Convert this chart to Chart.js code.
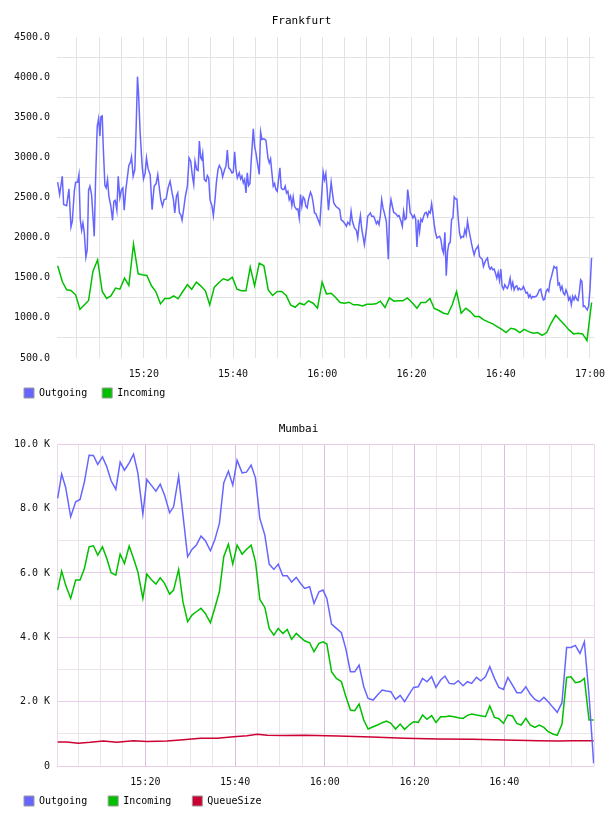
<!DOCTYPE html>
<html>
<head>
<meta charset="utf-8">
<script src="https://cdn.jsdelivr.net/npm/chart.js@4.4.0/dist/chart.umd.min.js"></script>
<style>
  html, body { margin: 0; background: #fff; overflow: hidden; }
  #wrap { position: relative; width: 608px; height: 816px; overflow: hidden; }
  canvas { display: block; position: absolute; left: 0; }
  #fraChart { top: 0; }
  #mumChart { top: 408px; }
</style>
</head>
<body>
<div id="wrap">
<canvas id="fraChart" width="608" height="415"></canvas>
<canvas id="mumChart" width="608" height="421"></canvas>
</div>
<script>
// x values are minutes after 15:00
const tickMinutes = [20, 40, 60, 80, 100, 120];
const tickLabels = ['15:20', '15:40', '16:00', '16:20', '16:40', '17:00'];

// Frankfurt - Outgoing
const fraOutTime = [
  0.68,1.12,1.72,2.02,2.69,3.21,3.66,3.96,4.41,4.70,
  5.15,5.45,5.75,6.05,6.34,6.64,7.01,7.31,7.61,7.91,
  8.28,8.88,9.18,9.55,9.85,10.15,10.37,10.67,10.89,11.27,
  11.56,11.86,12.16,12.61,12.98,13.28,13.58,13.95,14.25,14.62,
  15.00,15.29,15.59,15.96,16.34,16.63,17.01,17.23,17.60,17.98,
  18.28,18.57,18.80,19.17,19.62,19.92,20.29,20.59,20.96,21.41,
  21.85,22.30,22.75,23.12,23.42,23.79,24.17,24.54,24.99,25.43,
  25.88,26.33,26.63,26.93,27.30,27.60,27.97,28.27,28.57,29.01,
  29.31,29.76,30.13,30.50,30.88,31.18,31.47,31.85,32.15,32.44,
  32.74,32.97,33.19,33.56,33.94,34.23,34.53,34.83,35.28,35.58,
  35.95,36.25,36.62,36.92,37.37,37.66,38.11,38.41,38.71,39.01,
  39.38,39.75,40.05,40.35,40.65,40.95,41.39,41.69,41.99,42.29,
  42.59,42.89,43.18,43.48,43.78,44.08,44.53,44.82,45.12,45.57,
  45.87,46.17,46.46,46.91,47.36,47.81,48.11,48.40,48.70,49.00,
  49.30,49.60,49.90,50.19,50.49,50.79,51.09,51.39,51.68,51.98,
  52.28,52.58,52.88,53.18,53.47,53.77,54.22,54.52,54.82,55.11,
  55.41,55.71,56.01,56.31,56.61,56.90,57.35,57.65,57.95,58.25,
  58.55,58.99,59.44,59.89,60.19,60.48,60.78,61.08,61.38,61.68,
  61.98,62.27,62.57,63.02,63.47,63.91,64.21,64.66,64.96,65.41,
  65.70,66.15,66.45,66.75,67.20,67.64,67.94,68.24,68.54,68.84,
  69.13,69.43,69.88,70.18,70.48,70.77,71.07,71.52,71.82,72.12,
  72.42,72.71,73.01,73.31,73.61,73.91,74.35,74.80,75.10,75.40,
  75.70,75.99,76.44,76.89,77.19,77.64,77.93,78.23,78.53,78.83,
  79.13,79.42,79.72,80.02,80.32,80.62,80.92,81.22,81.51,81.81,
  82.11,82.41,82.71,83.01,83.30,83.60,83.90,84.20,84.50,84.80,
  85.09,85.39,85.69,85.99,86.29,86.59,86.88,87.18,87.48,87.78,
  88.08,88.38,88.67,88.97,89.27,89.57,89.87,90.17,90.46,90.76,
  91.06,91.36,91.66,91.96,92.25,92.55,92.85,93.15,93.45,93.75,
  94.04,94.34,94.64,94.94,95.24,95.53,95.83,96.13,96.43,96.73,
  97.03,97.32,97.62,97.92,98.22,98.52,98.82,99.11,99.41,99.71,
  100.01,100.31,100.61,100.90,101.20,101.50,101.80,102.10,102.39,102.69,
  102.99,103.29,103.59,103.89,104.18,104.48,104.78,105.08,105.38,105.68,
  105.97,106.27,106.57,106.87,107.17,107.47,107.76,108.06,108.36,108.66,
  108.96,109.26,109.55,109.85,110.15,110.45,110.75,111.05,111.34,111.64,
  111.94,112.24,112.54,112.84,113.13,113.43,113.73,114.03,114.33,114.62,
  114.92,115.22,115.52,115.82,116.12,116.41,116.71,117.01,117.31,117.61,
  117.91,118.20,118.50,118.80,119.10,119.40,119.70,119.99,120.35
];
const fraOut = [
  2692,2538,2767,2413,2400,2608,2133,2204,2579,2692,
  2692,2787,2225,2092,2183,2067,1758,1850,2592,2642,
  2538,2017,2725,3392,3483,3267,3508,3517,3142,2650,
  2621,2725,2517,2392,2217,2454,2467,2342,2767,2496,
  2600,2621,2342,2600,2767,2900,2942,3008,2767,2850,
  3392,4008,3808,3308,2892,2733,2808,2996,2858,2787,
  2350,2642,2675,2787,2642,2475,2392,2475,2483,2621,
  2704,2558,2475,2308,2517,2558,2308,2288,2217,2392,
  2517,2642,2996,2954,2767,2663,2954,2850,2838,3204,
  2996,2975,3050,2725,2704,2775,2746,2475,2392,2275,
  2475,2683,2850,2900,2850,2758,2850,2892,3092,2871,
  2850,2808,2817,3070,2850,2746,2808,2733,2767,2683,
  2725,2558,2808,2650,2675,2975,3358,3142,3058,2892,
  2788,3317,3225,3233,3217,2996,2933,2983,2808,2642,
  2675,2600,2579,2725,2871,2621,2600,2600,2642,2558,
  2579,2475,2517,2400,2508,2392,2350,2358,2246,2538,
  2392,2508,2483,2392,2371,2475,2567,2525,2433,2308,
  2300,2233,2167,2558,2817,2725,2800,2600,2342,2517,
  2692,2558,2433,2392,2371,2350,2225,2204,2183,2142,
  2192,2163,2329,2204,2121,2092,1996,2163,2275,2108,
  2017,1913,2100,2267,2288,2308,2267,2267,2225,2175,
  2204,2163,2275,2475,2371,2308,2204,1733,2350,2475,
  2392,2317,2300,2267,2275,2204,2142,2329,2225,2242,
  2600,2475,2308,2288,2246,2280,2233,1883,2225,2079,
  2233,2204,2267,2308,2317,2267,2329,2308,2425,2300,
  2163,2058,1996,2008,2017,1975,1858,1808,2067,1525,
  1829,1925,1942,2225,2246,2508,2483,2483,2246,2058,
  1996,2017,2008,2100,2038,2204,2100,2017,1925,1850,
  1788,1850,1871,1900,1767,1746,1733,1642,1692,1725,
  1746,1642,1608,1633,1600,1608,1558,1496,1567,1467,
  1608,1392,1358,1413,1383,1367,1417,1496,1375,1442,
  1350,1392,1400,1350,1371,1350,1358,1392,1350,1308,
  1317,1258,1288,1246,1267,1258,1267,1275,1308,1350,
  1358,1275,1225,1233,1329,1358,1329,1454,1508,1579,
  1642,1621,1633,1413,1433,1350,1392,1308,1288,1350,
  1308,1225,1258,1163,1267,1225,1275,1233,1217,1317,
  1475,1454,1142,1150,1121,1100,1150,1350,1746
];

// Frankfurt - Incoming
const fraInTime = [
  0.68,1.72,2.69,3.66,4.70,5.67,6.64,7.61,8.58,9.63,
  10.67,11.64,12.61,13.65,14.62,15.67,16.63,17.68,18.72,19.62,
  20.66,21.71,22.67,23.72,24.69,25.73,26.70,27.67,28.72,29.76,
  30.73,31.77,32.74,33.79,34.76,35.80,36.84,37.81,38.86,39.83,
  40.87,41.84,42.89,43.85,44.82,45.87,46.91,47.88,48.85,49.90,
  50.86,51.91,52.88,53.92,54.89,55.94,56.90,57.95,58.92,59.96,
  60.93,61.98,62.94,63.99,64.96,66.00,66.97,68.02,68.99,70.03,
  71.00,72.04,73.01,74.06,75.02,76.07,77.04,78.08,79.05,80.10,
  81.22,82.11,83.16,84.12,85.09,86.14,87.18,88.15,89.12,90.09,
  91.13,92.18,93.15,94.19,95.16,96.21,97.17,98.22,99.19,100.23,
  101.20,102.25,103.22,104.26,105.23,106.27,107.24,108.29,109.26,110.30,
  111.27,112.31,113.28,114.33,115.29,116.34,117.31,118.35,119.32,120.36
];
const fraIn = [
  1650,1454,1350,1342,1288,1108,1162,1217,1579,1725,
  1329,1242,1275,1371,1358,1496,1404,1921,1550,1538,
  1529,1400,1329,1175,1242,1242,1275,1238,1329,1413,
  1358,1446,1400,1338,1163,1383,1442,1488,1467,1508,
  1358,1338,1338,1633,1400,1683,1650,1350,1279,1329,
  1329,1279,1163,1133,1183,1163,1213,1183,1121,1446,
  1300,1308,1258,1192,1183,1196,1163,1163,1150,1171,
  1171,1175,1208,1129,1250,1208,1213,1213,1250,1192,
  1121,1192,1192,1242,1117,1092,1058,1046,1163,1329,
  1058,1121,1079,1017,1017,975,950,925,892,858,
  817,871,858,817,858,829,808,817,783,817,
  933,1033,975,913,850,800,808,800,717,1192
];

// Mumbai - Outgoing / Incoming (same sample times)
const mumTime = [
  0.45,1.34,2.23,3.35,4.47,5.44,6.41,7.45,8.42,9.38,
  10.43,11.40,12.36,13.41,14.38,15.34,16.39,17.36,18.32,19.44,
  20.33,21.30,22.35,23.31,24.28,25.40,26.29,27.41,28.38,29.42,
  30.39,31.36,32.40,33.37,34.49,35.46,36.50,37.47,38.51,39.48,
  40.45,41.56,42.53,43.57,44.54,45.51,46.63,47.60,48.64,49.61,
  50.65,51.62,52.59,53.63,54.60,55.50,56.62,57.59,58.70,59.60,
  60.45,61.50,62.58,63.69,64.66,65.70,66.67,67.64,68.68,69.65,
  70.77,71.74,72.78,73.75,74.72,75.76,76.80,77.77,78.81,79.78,
  80.83,81.79,82.76,83.81,84.77,85.82,86.78,87.75,88.80,89.76,
  90.81,91.78,92.74,93.79,94.76,95.80,96.77,97.81,98.78,99.82,
  100.79,101.83,102.80,103.77,104.81,105.78,106.82,107.79,108.83,109.80,
  110.84,111.81,112.86,113.90,114.87,115.84,116.88,117.85,118.89,119.93
];
const mumOut = [
  8314,9069,8655,7744,8210,8282,8831,9659,9649,9369,
  9607,9297,8862,8593,9442,9193,9421,9690,9111,7827,
  8904,8728,8541,8759,8417,7868,8055,9007,7796,6502,
  6729,6864,7143,6999,6688,7019,7537,8800,9162,8728,
  9504,9111,9131,9349,8955,7692,7175,6274,6108,6274,
  5912,5912,5715,5860,5673,5518,5570,5052,5415,5467,
  5208,4410,4276,4141,3654,2930,2930,3137,2464,2101,
  2050,2205,2360,2330,2308,2070,2195,1998,2236,2443,
  2464,2723,2619,2774,2443,2671,2795,2567,2547,2650,
  2495,2619,2567,2754,2650,2774,3085,2723,2443,2381,
  2754,2516,2277,2277,2464,2236,2070,1998,2133,1998,
  1822,1667,1967,3685,3685,3748,3499,3861,2200,83
];
const mumIn = [
  5466,6057,5622,5208,5777,5777,6139,6812,6843,6553,
  6812,6450,6005,5932,6584,6294,6833,6450,6036,5208,
  5963,5798,5653,5850,5674,5342,5466,6108,5100,4483,
  4690,4793,4900,4741,4452,4900,5415,6502,6895,6274,
  6864,6584,6729,6864,6346,5177,4928,4276,4069,4276,
  4120,4245,3934,4120,3996,3893,3830,3551,3810,3861,
  3789,2930,2723,2619,2174,1739,1718,1925,1429,1149,
  1221,1273,1346,1397,1325,1149,1304,1139,1273,1377,
  1356,1584,1449,1563,1356,1532,1532,1553,1532,1501,
  1480,1573,1615,1584,1563,1532,1863,1511,1470,1325,
  1584,1553,1325,1273,1480,1273,1201,1273,1201,1066,
  994,952,1294,2754,2774,2588,2619,2723,1429,1429
];

// Mumbai - QueueSize
const mumQueueTime = [
  0.45,2.46,5.06,7.67,10.65,13.63,17.36,20.33,24.80,27.78,
  32.25,35.98,39.70,42.68,44.92,47.15,50.87,55.49,62.95,70.40,
  77.85,85.30,92.74,100.19,107.64,112.11,115.09,119.93
];
const mumQueue = [
  745,745,710,735,776,740,787,760,776,807,
  859,865,911,942,983,955,945,958,932,901,
  859,838,828,807,787,776,787,787
];

const OUT_COLOR = '#6666ff';
const IN_COLOR = '#00c000';
const QUEUE_COLOR = '#cc0033';

Chart.defaults.font.family = 'DejaVu Sans Mono';
Chart.defaults.font.size = 10;
Chart.defaults.color = '#111';

// pull the legend up so it sits closer to the tick labels
const legendShift = {
  id: 'legendShift',
  afterLayout(chart, args, opts) {
    const lg = chart.legend;
    if (lg && opts.dy) {
      lg.top -= opts.dy;
      lg.bottom -= opts.dy;
    }
  }
};

function toPoints(xs, ys) {
  return xs.map((x, i) => ({ x: x, y: ys[i] }));
}

function timeLabel(v, last) {
  const i = tickMinutes.indexOf(v);
  return i >= 0 && i <= last ? tickLabels[i] : '';
}

function line(label, xs, ys, color) {
  return {
    label: label,
    data: toPoints(xs, ys),
    borderColor: color,
    backgroundColor: color,
    borderWidth: 1.5,
    pointRadius: 0,
    tension: 0,
    fill: false
  };
}

function legendOpts(pad) {
  return {
    position: 'bottom',
    align: 'start',
    labels: {
      boxWidth: 10,
      boxHeight: 10,
      padding: pad,
      color: '#000',
      generateLabels: chart => Chart.defaults.plugins.legend.labels.generateLabels(chart)
        .map(l => Object.assign(l, { strokeStyle: '#999', lineWidth: 1 }))
    }
  };
}

function titleOpts(text, top, bottom) {
  return {
    display: true,
    text: text,
    color: '#000',
    font: { size: 11, weight: 'normal' },
    padding: { top: top, bottom: bottom }
  };
}

// Frankfurt
new Chart(document.getElementById('fraChart'), {
  type: 'line',
  data: {
    datasets: [
      line('Outgoing', fraOutTime, fraOut, OUT_COLOR),
      line('Incoming', fraInTime, fraIn, IN_COLOR)
    ]
  },
  plugins: [legendShift],
  options: {
    responsive: false,
    animation: false,
    devicePixelRatio: 1,
    layout: { padding: { left: 9, right: 14, top: 0, bottom: 0 } },
    plugins: {
      title: titleOpts('Frankfurt', 15, 9),
      legend: legendOpts(15),
      legendShift: { dy: 7 },
      tooltip: { enabled: false }
    },
    scales: {
      x: {
        type: 'linear',
        min: 0.53,
        max: 120.9,
        grid: { color: '#e3e3e3', drawTicks: false },
        border: { display: false },
        ticks: {
          stepSize: 5, includeBounds: false, autoSkip: false, maxRotation: 0, padding: 10,
          callback: v => timeLabel(v, 5)
        },
        afterFit: s => { s.height = 22; s.paddingLeft = 0; s.paddingRight = 0; }
      },
      y: {
        min: 500,
        max: 4500,
        grid: {
          color: c => c.tick && c.tick.value % 500 === 0 ? 'rgba(0,0,0,0)' : '#e3e3e3',
          drawTicks: false
        },
        border: { display: false },
        ticks: {
          stepSize: 250, autoSkip: false, padding: 7,
          callback: v => v % 500 === 0 ? v.toFixed(1) : ''
        },
        afterFit: s => { s.width = 48; s.paddingTop = 0; s.paddingBottom = 0; }
      }
    }
  }
});

// Mumbai
new Chart(document.getElementById('mumChart'), {
  type: 'line',
  data: {
    datasets: [
      line('Outgoing', mumTime, mumOut, OUT_COLOR),
      line('Incoming', mumTime, mumIn, IN_COLOR),
      line('QueueSize', mumQueueTime, mumQueue, QUEUE_COLOR)
    ]
  },
  plugins: [legendShift],
  options: {
    responsive: false,
    animation: false,
    devicePixelRatio: 1,
    layout: { padding: { left: 3, right: 14, top: 0, bottom: 0 } },
    plugins: {
      title: titleOpts('Mumbai', 15, 8),
      legend: legendOpts(21),
      legendShift: { dy: 13 },
      tooltip: { enabled: false }
    },
    scales: {
      x: {
        type: 'linear',
        min: 0.3,
        max: 120,
        grid: {
          color: c => {
            const v = c.tick ? c.tick.value : 0;
            if (v === 120) return '#eed8ee';
            return v % 20 === 0 ? '#dcbedc' : '#ebe2eb';
          },
          drawTicks: false
        },
        border: { display: false },
        ticks: {
          stepSize: 5, includeBounds: false, autoSkip: false, maxRotation: 0, padding: 10,
          callback: v => timeLabel(v, 4)
        },
        afterFit: s => { s.height = 22; s.paddingLeft = 0; s.paddingRight = 0; }
      },
      y: {
        min: 0,
        max: 10000,
        grid: {
          color: c => c.tick && c.tick.value % 2000 === 0 ? '#e8cce8' : '#ebe4eb',
          drawTicks: false
        },
        border: { display: true, color: '#eed8ee', width: 1 },
        ticks: {
          stepSize: 1000, autoSkip: false, padding: 7,
          callback: v => v % 2000 !== 0 ? '' : (v === 0 ? '0' : (v / 1000).toFixed(1) + ' K')
        },
        afterFit: s => { s.width = 54; s.paddingTop = 0; s.paddingBottom = 0; }
      }
    }
  }
});
</script>
</body>
</html>
